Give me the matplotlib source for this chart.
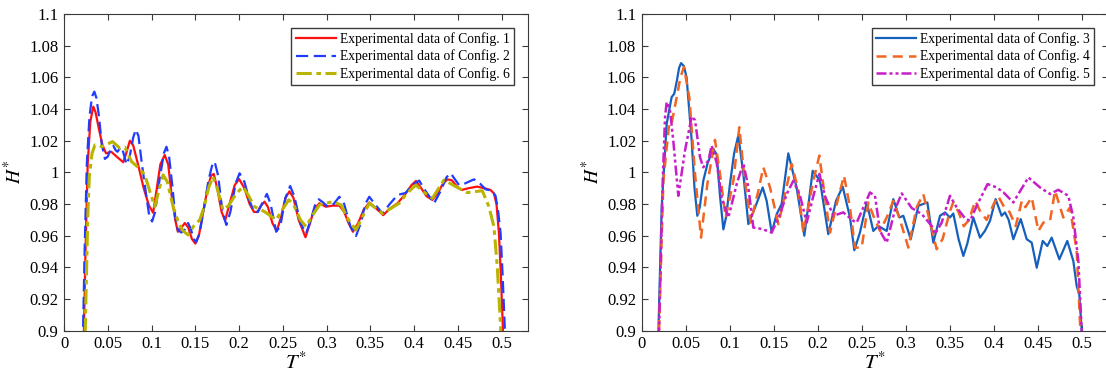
import numpy as np
import matplotlib
matplotlib.use("Agg")
import matplotlib.pyplot as plt
from matplotlib.ticker import FuncFormatter, MultipleLocator

plt.rcParams['font.family'] = ['Liberation Serif', 'DejaVu Serif']
plt.rcParams['mathtext.fontset'] = 'stix'

# (T*, H*) pairs
config1 = np.array([
    (0.022, 0.88), (0.0245, 0.95), (0.027, 1.005), (0.030, 1.032), (0.0334, 1.0415), (0.036, 1.038),
    (0.040, 1.027), (0.044, 1.017), (0.048, 1.012), (0.054, 1.013), (0.060, 1.010), (0.0676, 1.0064),
    (0.071, 1.012), (0.0752, 1.020), (0.079, 1.017), (0.085, 1.004), (0.091, 0.990), (0.097, 0.979),
    (0.1018, 0.9745), (0.106, 0.990), (0.110, 1.005), (0.115, 1.011), (0.119, 1.005), (0.123, 0.985),
    (0.127, 0.970), (0.130, 0.9625), (0.134, 0.965), (0.138, 0.968), (0.142, 0.965), (0.146, 0.958),
    (0.150, 0.955), (0.154, 0.960), (0.159, 0.975), (0.164, 0.990), (0.168, 0.998), (0.171, 0.999),
    (0.175, 0.990), (0.180, 0.975), (0.184, 0.9695), (0.189, 0.980), (0.195, 0.992), (0.200, 0.9958),
    (0.206, 0.990), (0.212, 0.980), (0.217, 0.975), (0.221, 0.975), (0.225, 0.979), (0.229, 0.9815),
    (0.233, 0.978), (0.238, 0.968), (0.243, 0.963), (0.248, 0.972), (0.253, 0.984), (0.2575, 0.988),
    (0.262, 0.984), (0.268, 0.970), (0.2758, 0.959), (0.281, 0.968), (0.286, 0.977), (0.2917, 0.9805),
    (0.299, 0.9783), (0.307, 0.979), (0.3145, 0.979), (0.320, 0.975), (0.325, 0.968), (0.330, 0.9625),
    (0.336, 0.968), (0.342, 0.976), (0.3487, 0.981), (0.355, 0.978), (0.3646, 0.973), (0.372, 0.977),
    (0.381, 0.9805), (0.3905, 0.9868), (0.397, 0.992), (0.402, 0.9946), (0.408, 0.990), (0.414, 0.985),
    (0.4208, 0.9826), (0.427, 0.987), (0.433, 0.993), (0.438, 0.9956), (0.443, 0.995), (0.449, 0.991),
    (0.4543, 0.9889), (0.462, 0.990), (0.472, 0.991), (0.480, 0.990), (0.487, 0.9889), (0.491, 0.9868),
    (0.494, 0.980), (0.4968, 0.9615), (0.499, 0.935), (0.5014, 0.90), (0.503, 0.88)])

config2 = np.array([
    (0.021, 0.88), (0.0235, 0.95), (0.026, 1.005), (0.029, 1.035), (0.032, 1.048), (0.0346, 1.051),
    (0.037, 1.047), (0.040, 1.035), (0.043, 1.018), (0.0467, 1.0085), (0.050, 1.010), (0.0535, 1.015),
    (0.0562, 1.0168), (0.059, 1.014), (0.061, 1.013), (0.0635, 1.015), (0.0657, 1.016), (0.068, 1.012),
    (0.0714, 1.005), (0.075, 1.010), (0.079, 1.022), (0.082, 1.027), (0.085, 1.023), (0.089, 1.005),
    (0.094, 0.985), (0.0975, 0.972), (0.1006, 0.969), (0.104, 0.975), (0.109, 0.995), (0.114, 1.012),
    (0.117, 1.0162), (0.120, 1.010), (0.124, 0.990), (0.127, 0.972), (0.130, 0.9636), (0.134, 0.962),
    (0.138, 0.964), (0.1417, 0.968), (0.145, 0.964), (0.148, 0.958), (0.151, 0.956), (0.155, 0.962),
    (0.160, 0.978), (0.165, 0.995), (0.169, 1.004), (0.172, 1.0068), (0.176, 0.998), (0.181, 0.975),
    (0.1854, 0.9668), (0.190, 0.975), (0.196, 0.993), (0.2005, 0.9994), (0.206, 0.994), (0.212, 0.982),
    (0.217, 0.975), (0.2214, 0.975), (0.226, 0.980), (0.2317, 0.9864), (0.236, 0.980), (0.2423, 0.9625),
    (0.247, 0.966), (0.253, 0.984), (0.2583, 0.9914), (0.263, 0.985), (0.270, 0.968), (0.2765, 0.9615),
    (0.282, 0.970), (0.287, 0.980), (0.291, 0.983), (0.296, 0.981), (0.3014, 0.9782), (0.308, 0.980),
    (0.3145, 0.9846), (0.320, 0.980), (0.327, 0.966), (0.3335, 0.9598), (0.339, 0.968), (0.344, 0.980),
    (0.3487, 0.9846), (0.355, 0.980), (0.3638, 0.974), (0.372, 0.980), (0.381, 0.9857), (0.390, 0.987),
    (0.398, 0.992), (0.4057, 0.9948), (0.412, 0.989), (0.4227, 0.9805), (0.430, 0.988), (0.437, 0.997),
    (0.4418, 0.9994), (0.446, 0.996), (0.4512, 0.992), (0.458, 0.993), (0.4683, 0.9956), (0.475, 0.993),
    (0.4816, 0.9893), (0.4892, 0.9884), (0.493, 0.985), (0.496, 0.975), (0.4987, 0.9615), (0.501, 0.935),
    (0.5036, 0.90), (0.505, 0.88)])

config6 = np.array([
    (0.0235, 0.88), (0.025, 0.92), (0.027, 0.97), (0.0288, 0.997), (0.032, 1.012), (0.0353, 1.0173),
    (0.039, 1.017), (0.043, 1.0162), (0.048, 1.0175), (0.0555, 1.0194), (0.0638, 1.0152), (0.0695, 1.0159),
    (0.0771, 1.0068), (0.085, 1.003), (0.0923, 0.9984), (0.098, 0.988), (0.1037, 0.9783), (0.108, 0.988),
    (0.1132, 0.9984), (0.118, 0.994), (0.1246, 0.9783), (0.131, 0.968), (0.136, 0.963), (0.1417, 0.9605),
    (0.148, 0.966), (0.155, 0.970), (0.160, 0.978), (0.165, 0.990), (0.170, 0.9973), (0.175, 0.990),
    (0.1815, 0.9763), (0.188, 0.979), (0.196, 0.986), (0.2043, 0.991), (0.210, 0.986), (0.2176, 0.9783),
    (0.229, 0.9752), (0.2423, 0.970), (0.250, 0.977), (0.2567, 0.9826), (0.262, 0.980), (0.270, 0.970),
    (0.2765, 0.9657), (0.284, 0.973), (0.2917, 0.9794), (0.3069, 0.9815), (0.3164, 0.9794), (0.325, 0.970),
    (0.3335, 0.9636), (0.341, 0.972), (0.3487, 0.9805), (0.3638, 0.974), (0.3829, 0.9805), (0.392, 0.987),
    (0.4019, 0.992), (0.410, 0.988), (0.4208, 0.9836), (0.428, 0.990), (0.4341, 0.9952), (0.4475, 0.991),
    (0.4607, 0.9872), (0.4778, 0.9884), (0.4854, 0.9783), (0.4911, 0.9657), (0.4949, 0.9404),
    (0.4987, 0.9025), (0.500, 0.88)])

config3 = np.array([
    (0.018, 0.88), (0.019, 0.90), (0.0227, 0.978), (0.0284, 1.0307), (0.034, 1.0475), (0.037, 1.0497),
    (0.040, 1.058), (0.0425, 1.066), (0.0447, 1.069), (0.048, 1.067), (0.051, 1.060), (0.0568, 1.020),
    (0.060, 0.990), (0.0632, 0.9726), (0.066, 0.978), (0.070, 0.9947), (0.075, 1.006), (0.0814, 1.0148),
    (0.0852, 1.0112), (0.089, 0.985), (0.0928, 0.964), (0.096, 0.972), (0.1003, 0.9927), (0.105, 1.012),
    (0.1098, 1.0233), (0.1155, 0.999), (0.1212, 0.9673), (0.1288, 0.9778), (0.1375, 0.9905), (0.142, 0.982),
    (0.1477, 0.962), (0.1534, 0.9736), (0.159, 0.980), (0.1666, 1.012), (0.176, 0.9905), (0.1848, 0.960),
    (0.190, 0.982), (0.1943, 1.001), (0.2026, 0.9947), (0.212, 0.961), (0.2208, 0.982), (0.2284, 0.991),
    (0.2367, 0.9715), (0.2416, 0.9508), (0.248, 0.962), (0.2557, 0.981), (0.2632, 0.963), (0.2689, 0.9662),
    (0.2784, 0.963), (0.2859, 0.9831), (0.2928, 0.9715), (0.2973, 0.9726), (0.3057, 0.9578), (0.3144, 0.9789),
    (0.3246, 0.981), (0.3314, 0.9556), (0.339, 0.9726), (0.3447, 0.9747), (0.3503, 0.9715), (0.3541, 0.974),
    (0.360, 0.958), (0.3655, 0.9472), (0.370, 0.955), (0.3768, 0.9715), (0.3844, 0.9588), (0.390, 0.963),
    (0.3958, 0.9694), (0.4022, 0.9831), (0.409, 0.9726), (0.4128, 0.9747), (0.417, 0.970), (0.4223, 0.9578),
    (0.4307, 0.9705), (0.4375, 0.9578), (0.4432, 0.9556), (0.4489, 0.9398), (0.4557, 0.9567), (0.4609, 0.9535),
    (0.4659, 0.9588), (0.4746, 0.9451), (0.4836, 0.9567), (0.4905, 0.944), (0.4943, 0.9282), (0.4973, 0.9229),
    (0.500, 0.90), (0.501, 0.88)])

config4 = np.array([
    (0.0185, 0.88), (0.0197, 0.90), (0.0246, 0.9947), (0.0314, 1.0317), (0.034, 1.031), (0.0398, 1.0475),
    (0.044, 1.060), (0.048, 1.0665), (0.0541, 1.0475), (0.0606, 0.999), (0.0674, 0.9588), (0.0746, 0.9927),
    (0.0833, 1.0205), (0.089, 0.999), (0.0954, 0.9715), (0.1042, 0.9947), (0.1109, 1.0285), (0.1163, 0.999),
    (0.1238, 0.9683), (0.1326, 0.9884), (0.1382, 1.0032), (0.1458, 0.9905), (0.1553, 0.9673), (0.1628, 0.9863),
    (0.1705, 1.0053), (0.178, 0.9884), (0.1837, 0.962), (0.195, 0.9947), (0.2019, 1.0106), (0.2072, 0.9884),
    (0.214, 0.962), (0.2235, 0.9842), (0.2299, 0.9979), (0.2367, 0.9778), (0.2424, 0.9525), (0.250, 0.9525),
    (0.2576, 0.981), (0.2632, 0.9726), (0.2708, 0.963), (0.2784, 0.9715), (0.2859, 0.982), (0.2935, 0.970),
    (0.303, 0.9525), (0.3125, 0.978), (0.320, 0.9863), (0.327, 0.970), (0.3352, 0.9515), (0.342, 0.958),
    (0.350, 0.975), (0.354, 0.981), (0.360, 0.975), (0.366, 0.966), (0.372, 0.970), (0.379, 0.982),
    (0.385, 0.975), (0.392, 0.970), (0.400, 0.980), (0.405, 0.985), (0.412, 0.978), (0.418, 0.975),
    (0.425, 0.966), (0.432, 0.982), (0.436, 0.978), (0.4432, 0.9842), (0.4508, 0.963), (0.4564, 0.9683),
    (0.464, 0.9694), (0.4697, 0.9884), (0.4791, 0.9715), (0.4867, 0.9778), (0.4943, 0.9504), (0.4985, 0.90),
    (0.4995, 0.88)])

config5 = np.array([
    (0.0185, 0.88), (0.0197, 0.90), (0.0239, 0.9947), (0.0265, 1.0349), (0.0284, 1.0444), (0.032, 1.040),
    (0.0359, 1.020), (0.0416, 0.9852), (0.0492, 1.0138), (0.0568, 1.0353), (0.0606, 1.033), (0.0663, 1.0095),
    (0.070, 1.0032), (0.0757, 1.0074), (0.0795, 1.0169), (0.0852, 1.006), (0.0909, 0.9842), (0.0985, 0.9715),
    (0.108, 0.9927), (0.1155, 1.0057), (0.1212, 0.9905), (0.1269, 0.9651), (0.1364, 0.9643), (0.1477, 0.962),
    (0.1572, 0.9736), (0.1648, 0.9863), (0.1723, 0.9947), (0.180, 0.985), (0.1875, 0.9683), (0.195, 0.985),
    (0.2019, 0.999), (0.2083, 0.985), (0.2178, 0.9726), (0.2291, 0.9747), (0.2405, 0.9694), (0.2443, 0.9683),
    (0.2594, 0.9873), (0.2651, 0.9852), (0.2708, 0.963), (0.2784, 0.9556), (0.288, 0.9768), (0.2955, 0.9867),
    (0.3068, 0.9775), (0.3182, 0.9737), (0.3295, 0.9662), (0.3333, 0.961), (0.3409, 0.9683), (0.3503, 0.9852),
    (0.358, 0.9778), (0.3674, 0.971), (0.3731, 0.9694), (0.3807, 0.9789), (0.393, 0.9926), (0.4034, 0.9905),
    (0.411, 0.9874), (0.4223, 0.981), (0.4394, 0.9968), (0.4526, 0.9905), (0.464, 0.9863), (0.4734, 0.989),
    (0.4848, 0.9852), (0.4905, 0.9715), (0.4962, 0.944), (0.500, 0.90), (0.501, 0.88)])

left_labels = ['Experimental data of Config. 1', 'Experimental data of Config. 2', 'Experimental data of Config. 6']
right_labels = ['Experimental data of Config. 3', 'Experimental data of Config. 4', 'Experimental data of Config. 5']


def fmt(v, pos):
    return '%g' % round(v, 3)


def style_axes(ax):
    ax.set_xlim(0, 0.53)
    ax.set_ylim(0.9, 1.1)
    ax.yaxis.set_major_locator(MultipleLocator(0.02))
    ax.set_xticks(np.arange(0, 0.501, 0.05))
    ax.xaxis.set_major_formatter(FuncFormatter(fmt))
    ax.yaxis.set_major_formatter(FuncFormatter(fmt))
    ax.tick_params(direction='in', top=True, right=True, length=4, width=0.8,
                   colors='#3a3a3a', labelcolor='black', labelsize=12, pad=4)
    for s in ax.spines.values():
        s.set_color('#3a3a3a')
        s.set_linewidth(0.8)
    ax.set_xlabel(r'$T^{*}$', fontsize=15, labelpad=0)
    ax.set_ylabel(r'$H^{*}$', fontsize=14, labelpad=3)
    ax.legend(loc='upper right', fontsize=9.8, fancybox=False, framealpha=1,
              edgecolor='#3a3a3a', handlelength=2.9, borderaxespad=1.0,
              borderpad=0.35, labelspacing=0.25, handletextpad=0.3)


fig = plt.figure(figsize=(11.06, 3.8), dpi=100)
ax1 = fig.add_axes([0.0579, 0.1297, 0.4195, 0.8334])
ax2 = fig.add_axes([0.5802, 0.1297, 0.4217, 0.8334])

ax1.plot(config1[:, 0], config1[:, 1], color='#ff1010', lw=1.6, label=left_labels[0])
ax1.plot(config2[:, 0], config2[:, 1], color='#1f3cff', lw=1.6, dashes=(5.5, 2.5), label=left_labels[1])
ax1.plot(config6[:, 0], config6[:, 1], color='#b8b400', lw=2.2, dashes=(5, 1.5, 1.5, 1.5), label=left_labels[2])
style_axes(ax1)

ax2.plot(config3[:, 0], config3[:, 1], color='#1560bd', lw=1.6, label=right_labels[0])
ax2.plot(config4[:, 0], config4[:, 1], color='#f26522', lw=1.8, dashes=(4, 2.5), label=right_labels[1])
ax2.plot(config5[:, 0], config5[:, 1], color='#c81ec8', lw=1.8, dashes=(4, 1.2, 1.2, 1.2, 1.2, 1.2), label=right_labels[2])
style_axes(ax2)

fig.savefig('out.png', dpi=100)
